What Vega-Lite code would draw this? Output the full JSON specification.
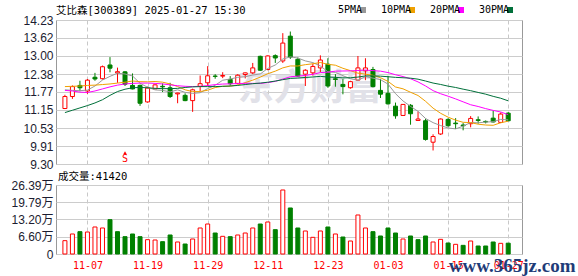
{
  "$schema": "https://vega.github.io/schema/vega-lite/v6.json",
  "background": "white",
  "padding": {"left": 10, "top": 5, "right": 0, "bottom": 0},
  "spacing": 21,
  "bounds": "flush",
  "config": {
    "view": {"stroke": "#999999", "strokeWidth": 1},
    "axis": {"gridColor": "#cccccc", "gridWidth": 1, "ticks": false, "domain": false, "title": null, "labelOverlap": false, "labelFlush": false}
  },
  "datasets": {
    "k": [
      {"i":0,"d":"11-04","o":11.20,"h":11.67,"l":11.18,"c":11.61,"v":5.10,"u":1,"vu":1,"5PMA":11.84,"10PMA":11.95,"20PMA":11.82,"30PMA":11.06},
      {"i":1,"d":"11-05","o":11.61,"h":11.99,"l":11.53,"c":11.95,"v":7.65,"u":1,"vu":1,"5PMA":11.82,"10PMA":11.96,"20PMA":11.80,"30PMA":11.14},
      {"i":2,"d":"11-06","o":11.99,"h":12.15,"l":11.79,"c":11.91,"v":8.54,"u":0,"vu":0,"5PMA":11.81,"10PMA":11.97,"20PMA":11.76,"30PMA":11.22},
      {"i":3,"d":"11-07","o":11.80,"h":12.21,"l":11.70,"c":12.17,"v":8.41,"u":1,"vu":1,"5PMA":11.83,"10PMA":11.99,"20PMA":11.75,"30PMA":11.30},
      {"i":4,"d":"11-08","o":12.27,"h":12.42,"l":12.15,"c":12.21,"v":10.33,"u":0,"vu":1,"5PMA":11.97,"10PMA":12.00,"20PMA":11.80,"30PMA":11.39},
      {"i":5,"d":"11-11","o":12.22,"h":12.67,"l":12.19,"c":12.63,"v":9.95,"u":1,"vu":1,"5PMA":12.174,"10PMA":12.02,"20PMA":11.87,"30PMA":11.50},
      {"i":6,"d":"11-12","o":12.69,"h":12.96,"l":12.44,"c":12.58,"v":13.13,"u":0,"vu":0,"5PMA":12.30,"10PMA":12.04,"20PMA":11.94,"30PMA":11.65},
      {"i":7,"d":"11-13","o":12.42,"h":12.60,"l":12.08,"c":12.46,"v":8.54,"u":1,"vu":0,"5PMA":12.41,"10PMA":12.07,"20PMA":12.00,"30PMA":11.78},
      {"i":8,"d":"11-14","o":12.455,"h":12.48,"l":11.97,"c":12.03,"v":6.63,"u":0,"vu":0,"5PMA":12.382,"10PMA":12.10,"20PMA":12.04,"30PMA":11.86},
      {"i":9,"d":"11-15","o":11.99,"h":12.40,"l":11.855,"c":11.87,"v":7.65,"u":0,"vu":0,"5PMA":12.314,"10PMA":12.142,"20PMA":12.06,"30PMA":11.91},
      {"i":10,"d":"11-18","o":11.99,"h":12.02,"l":11.29,"c":11.38,"v":6.63,"u":0,"vu":0,"5PMA":12.064,"10PMA":12.119,"20PMA":12.07,"30PMA":11.92},
      {"i":11,"d":"11-19","o":11.425,"h":11.95,"l":11.40,"c":11.90,"v":5.48,"u":1,"vu":1,"5PMA":11.928,"10PMA":12.114,"20PMA":12.07,"30PMA":11.91},
      {"i":12,"d":"11-20","o":11.87,"h":12.025,"l":11.87,"c":12.01,"v":5.35,"u":1,"vu":1,"5PMA":11.838,"10PMA":12.124,"20PMA":12.06,"30PMA":11.89},
      {"i":13,"d":"11-21","o":11.96,"h":12.06,"l":11.765,"c":11.94,"v":4.72,"u":0,"vu":0,"5PMA":11.82,"10PMA":12.101,"20PMA":12.04,"30PMA":11.88},
      {"i":14,"d":"11-22","o":11.91,"h":12.08,"l":11.56,"c":11.61,"v":7.27,"u":0,"vu":0,"5PMA":11.768,"10PMA":12.041,"20PMA":12.01,"30PMA":11.88},
      {"i":15,"d":"11-25","o":11.70,"h":11.74,"l":11.38,"c":11.73,"v":4.59,"u":1,"vu":1,"5PMA":11.838,"10PMA":11.951,"20PMA":11.98,"30PMA":11.89},
      {"i":16,"d":"11-26","o":11.65,"h":11.72,"l":11.45,"c":11.47,"v":3.82,"u":0,"vu":0,"5PMA":11.752,"10PMA":11.84,"20PMA":11.96,"30PMA":11.92},
      {"i":17,"d":"11-27","o":11.47,"h":11.88,"l":11.085,"c":11.84,"v":5.74,"u":1,"vu":1,"5PMA":11.718,"10PMA":11.778,"20PMA":11.95,"30PMA":11.94},
      {"i":18,"d":"11-28","o":11.957,"h":12.33,"l":11.80,"c":12.05,"v":9.95,"u":1,"vu":1,"5PMA":11.74,"10PMA":11.78,"20PMA":11.96,"30PMA":11.95},
      {"i":19,"d":"11-29","o":12.08,"h":12.65,"l":11.97,"c":12.32,"v":11.47,"u":1,"vu":1,"5PMA":11.882,"10PMA":11.825,"20PMA":11.984,"30PMA":11.95},
      {"i":20,"d":"12-02","o":12.31,"h":12.375,"l":12.22,"c":12.30,"v":8.03,"u":0,"vu":0,"5PMA":11.996,"10PMA":11.917,"20PMA":12.018,"30PMA":11.95},
      {"i":21,"d":"12-03","o":12.308,"h":12.443,"l":12.24,"c":12.33,"v":6.76,"u":1,"vu":1,"5PMA":12.168,"10PMA":11.96,"20PMA":12.037,"30PMA":11.96},
      {"i":22,"d":"12-04","o":12.195,"h":12.31,"l":11.98,"c":12.05,"v":6.63,"u":0,"vu":0,"5PMA":12.21,"10PMA":11.964,"20PMA":12.044,"30PMA":11.97},
      {"i":23,"d":"12-05","o":12.06,"h":12.375,"l":12.025,"c":12.34,"v":7.27,"u":1,"vu":1,"5PMA":12.268,"10PMA":12.004,"20PMA":12.053,"30PMA":11.99},
      {"i":24,"d":"12-06","o":12.364,"h":12.43,"l":12.23,"c":12.42,"v":8.03,"u":1,"vu":1,"5PMA":12.288,"10PMA":12.085,"20PMA":12.063,"30PMA":12.02},
      {"i":25,"d":"12-09","o":12.42,"h":12.76,"l":12.375,"c":12.59,"v":9.95,"u":1,"vu":1,"5PMA":12.346,"10PMA":12.171,"20PMA":12.061,"30PMA":12.05},
      {"i":26,"d":"12-10","o":12.986,"h":13.01,"l":12.49,"c":12.51,"v":11.47,"u":0,"vu":0,"5PMA":12.382,"10PMA":12.275,"20PMA":12.058,"30PMA":12.07},
      {"i":27,"d":"12-11","o":12.534,"h":13.02,"l":12.51,"c":13.00,"v":12.24,"u":1,"vu":1,"5PMA":12.572,"10PMA":12.391,"20PMA":12.085,"30PMA":12.10},
      {"i":28,"d":"12-12","o":13.009,"h":13.054,"l":12.76,"c":12.93,"v":9.31,"u":0,"vu":0,"5PMA":12.69,"10PMA":12.479,"20PMA":12.13,"30PMA":12.14},
      {"i":29,"d":"12-13","o":12.828,"h":13.78,"l":12.76,"c":13.44,"v":24.48,"u":1,"vu":1,"5PMA":12.894,"10PMA":12.591,"20PMA":12.208,"30PMA":12.186},
      {"i":30,"d":"12-16","o":13.677,"h":13.835,"l":12.896,"c":12.96,"v":17.60,"u":0,"vu":0,"5PMA":12.968,"10PMA":12.657,"20PMA":12.287,"30PMA":12.231},
      {"i":31,"d":"12-17","o":12.885,"h":12.95,"l":12.285,"c":12.31,"v":9.95,"u":0,"vu":0,"5PMA":12.928,"10PMA":12.655,"20PMA":12.308,"30PMA":12.243},
      {"i":32,"d":"12-18","o":12.376,"h":12.545,"l":11.97,"c":12.51,"v":8.80,"u":1,"vu":1,"5PMA":12.83,"10PMA":12.701,"20PMA":12.333,"30PMA":12.263},
      {"i":33,"d":"12-19","o":12.42,"h":12.738,"l":12.33,"c":12.64,"v":6.38,"u":1,"vu":1,"5PMA":12.772,"10PMA":12.731,"20PMA":12.368,"30PMA":12.279},
      {"i":34,"d":"12-20","o":12.59,"h":13.02,"l":12.444,"c":12.86,"v":8.80,"u":1,"vu":1,"5PMA":12.656,"10PMA":12.775,"20PMA":12.43,"30PMA":12.30},
      {"i":35,"d":"12-23","o":12.715,"h":12.92,"l":11.91,"c":11.97,"v":10.33,"u":0,"vu":0,"5PMA":12.458,"10PMA":12.713,"20PMA":12.442,"30PMA":12.278},
      {"i":36,"d":"12-24","o":12.217,"h":12.376,"l":11.946,"c":12.195,"v":7.65,"u":0,"vu":1,"5PMA":12.436,"10PMA":12.682,"20PMA":12.479,"30PMA":12.266},
      {"i":37,"d":"12-25","o":12.025,"h":12.206,"l":11.686,"c":11.95,"v":6.50,"u":0,"vu":0,"5PMA":12.324,"10PMA":12.577,"20PMA":12.484,"30PMA":12.249},
      {"i":38,"d":"12-26","o":11.912,"h":12.15,"l":11.878,"c":12.12,"v":4.97,"u":1,"vu":1,"5PMA":12.22,"10PMA":12.496,"20PMA":12.488,"30PMA":12.252},
      {"i":39,"d":"12-27","o":12.172,"h":12.998,"l":12.15,"c":12.59,"v":14.92,"u":1,"vu":1,"5PMA":12.166,"10PMA":12.411,"20PMA":12.501,"30PMA":12.276},
      {"i":40,"d":"12-30","o":12.49,"h":12.92,"l":12.17,"c":12.59,"v":9.95,"u":1,"vu":1,"5PMA":12.29,"10PMA":12.374,"20PMA":12.516,"30PMA":12.316},
      {"i":41,"d":"12-31","o":12.534,"h":12.625,"l":11.923,"c":11.95,"v":8.54,"u":0,"vu":0,"5PMA":12.24,"10PMA":12.338,"20PMA":12.497,"30PMA":12.318},
      {"i":42,"d":"01-02","o":11.82,"h":12.217,"l":11.56,"c":11.69,"v":6.89,"u":0,"vu":0,"5PMA":12.188,"10PMA":12.256,"20PMA":12.479,"30PMA":12.307},
      {"i":43,"d":"01-03","o":11.72,"h":12.319,"l":11.335,"c":11.36,"v":9.95,"u":0,"vu":0,"5PMA":12.036,"10PMA":12.128,"20PMA":12.43,"30PMA":12.288},
      {"i":44,"d":"01-06","o":11.28,"h":11.403,"l":10.85,"c":10.95,"v":8.03,"u":0,"vu":0,"5PMA":11.708,"10PMA":11.937,"20PMA":12.356,"30PMA":12.266},
      {"i":45,"d":"01-07","o":10.962,"h":11.35,"l":10.95,"c":11.34,"v":5.74,"u":1,"vu":1,"5PMA":11.458,"10PMA":11.874,"20PMA":12.294,"30PMA":12.253},
      {"i":46,"d":"01-08","o":11.31,"h":11.35,"l":10.645,"c":11.02,"v":6.89,"u":0,"vu":0,"5PMA":11.272,"10PMA":11.756,"20PMA":12.219,"30PMA":12.238},
      {"i":47,"d":"01-09","o":10.79,"h":11.098,"l":10.79,"c":10.84,"v":5.48,"u":1,"vu":0,"5PMA":11.102,"10PMA":11.645,"20PMA":12.111,"30PMA":12.204},
      {"i":48,"d":"01-10","o":10.781,"h":10.85,"l":10.10,"c":10.14,"v":6.89,"u":0,"vu":0,"5PMA":10.858,"10PMA":11.447,"20PMA":11.972,"30PMA":12.141},
      {"i":49,"d":"01-13","o":10.046,"h":10.317,"l":9.763,"c":10.24,"v":4.59,"u":1,"vu":1,"5PMA":10.716,"10PMA":11.212,"20PMA":11.812,"30PMA":12.071},
      {"i":50,"d":"01-14","o":10.328,"h":10.86,"l":10.295,"c":10.84,"v":5.61,"u":1,"vu":1,"5PMA":10.616,"10PMA":11.037,"20PMA":11.706,"30PMA":12.023},
      {"i":51,"d":"01-15","o":10.826,"h":10.87,"l":10.578,"c":10.61,"v":4.21,"u":0,"vu":0,"5PMA":10.534,"10PMA":10.903,"20PMA":11.621,"30PMA":11.965},
      {"i":52,"d":"01-16","o":10.70,"h":10.87,"l":10.498,"c":10.68,"v":3.70,"u":0,"vu":1,"5PMA":10.502,"10PMA":10.802,"20PMA":11.529,"30PMA":11.92},
      {"i":53,"d":"01-17","o":10.634,"h":10.70,"l":10.453,"c":10.61,"v":3.31,"u":0,"vu":0,"5PMA":10.596,"10PMA":10.727,"20PMA":11.428,"30PMA":11.862},
      {"i":54,"d":"01-20","o":10.679,"h":10.94,"l":10.555,"c":10.86,"v":4.97,"u":1,"vu":1,"5PMA":10.72,"10PMA":10.718,"20PMA":11.328,"30PMA":11.81},
      {"i":55,"d":"01-21","o":10.815,"h":10.928,"l":10.679,"c":10.79,"v":3.06,"u":0,"vu":0,"5PMA":10.71,"10PMA":10.663,"20PMA":11.269,"30PMA":11.75},
      {"i":56,"d":"01-22","o":10.758,"h":10.79,"l":10.69,"c":10.74,"v":3.06,"u":0,"vu":0,"5PMA":10.736,"10PMA":10.635,"20PMA":11.196,"30PMA":11.691},
      {"i":57,"d":"01-23","o":10.87,"h":11.13,"l":10.724,"c":10.74,"v":4.59,"u":0,"vu":0,"5PMA":10.748,"10PMA":10.625,"20PMA":11.135,"30PMA":11.616},
      {"i":58,"d":"01-24","o":10.724,"h":11.064,"l":10.70,"c":11.01,"v":4.08,"u":1,"vu":1,"5PMA":10.828,"10PMA":10.712,"20PMA":11.08,"30PMA":11.552},
      {"i":59,"d":"01-27","o":11.041,"h":11.075,"l":10.77,"c":10.78,"v":4.14,"u":0,"vu":0,"5PMA":10.812,"10PMA":10.766,"20PMA":10.989,"30PMA":11.463}
    ]
  },
  "vconcat": [
    {
      "width": 466,
      "height": 144,
      "data": {"name": "k"},
      "title": {"text": "艾比森[300389] 2025-01-27 15:30", "anchor": "start", "frame": "group", "font": "DejaVu Sans Mono, Noto Sans CJK SC", "fontSize": 10.5, "fontWeight": "normal", "color": "#000000", "offset": -2},
      "encoding": {
        "x": {"field": "i", "type": "quantitative", "scale": {"domain": [-0.52, 60.17], "nice": false, "zero": false},
              "axis": {"values": [3, 11, 19, 27, 35, 43, 51, 59], "tickCount": 20, "labels": false, "grid": true, "gridDash": [4, 3], "gridColor": "#c8c8c8"}}
      },
      "layer": [
        {
          "transform": [{"filter": "datum.i == 0"}],
          "mark": {"type": "text", "font": "Noto Sans CJK SC", "fontSize": 36, "fontWeight": "bold", "color": "#e1e1e8", "align": "center", "baseline": "middle"},
          "encoding": {"x": {"datum": 32.6}, "y": {"datum": 11.86, "type": "quantitative"}, "text": {"value": "东方财富"}}
        },
        {
          "transform": [{"filter": "datum.i == 0"}],
          "mark": {"type": "text", "font": "DejaVu Sans Mono", "fontSize": 10, "color": "#ff0000", "align": "center", "baseline": "middle"},
          "encoding": {"x": {"datum": 8}, "y": {"datum": 9.46, "type": "quantitative"}, "text": {"value": "S"}}
        },
        {
          "transform": [{"filter": "datum.i == 0"}],
          "mark": {"type": "point", "shape": "triangle-up", "size": 14, "filled": true, "color": "#ff0000", "opacity": 1},
          "encoding": {"x": {"datum": 8}, "y": {"datum": 9.68, "type": "quantitative"}}
        },
        {
          "mark": {"type": "rule", "strokeWidth": 1},
          "encoding": {
            "y": {"field": "l", "type": "quantitative", "scale": {"domain": [9.30, 14.23], "nice": false, "zero": false},
                  "axis": {"values": [9.30, 9.91, 10.53, 11.15, 11.77, 12.38, 13.00, 13.62, 14.23], "tickCount": 20, "format": ".2f", "grid": true, "labelOverlap": false, "labelFlush": false, "labelPadding": 3, "labelFont": "Liberation Sans", "labelFontSize": 12, "labelColor": "#1c1c30"}},
            "y2": {"field": "h"},
            "color": {"condition": {"test": "datum.u == 1", "value": "#ff0000"}, "value": "#008000"}
          }
        },
        {
          "mark": {"type": "bar", "width": 4, "strokeWidth": 1},
          "encoding": {
            "y": {"field": "o", "type": "quantitative"},
            "y2": {"field": "c"},
            "fill": {"condition": {"test": "datum.u == 1", "value": "#ffffff"}, "value": "#008000"},
            "stroke": {"condition": {"test": "datum.u == 1", "value": "#ff0000"}, "value": "#008000"}
          }
        },
        {
          "transform": [{"fold": ["5PMA", "10PMA", "20PMA", "30PMA"], "as": ["key", "val"]}],
          "mark": {"type": "line", "strokeWidth": 1, "interpolate": "linear"},
          "encoding": {
            "y": {"field": "val", "type": "quantitative"},
            "color": {"field": "key", "type": "nominal",
                      "scale": {"domain": ["5PMA", "10PMA", "20PMA", "30PMA"], "range": ["#999999", "#f0a000", "#ff00ff", "#00703a"]},
                      "legend": {"orient": "none", "legendX": 300, "legendY": -15, "direction": "horizontal", "title": null,
                                 "symbolType": "square", "symbolSize": 4, "symbolStrokeWidth": 4,
                                 "labelFont": "DejaVu Sans Mono", "labelFontSize": 10, "labelColor": "#000000",
                                 "labelAlign": "right", "labelOffset": -6, "symbolOffset": 2, "columnPadding": 8}}
          }
        }
      ]
    },
    {
      "width": 466,
      "height": 69,
      "data": {"name": "k"},
      "title": {"text": "成交量:41420", "anchor": "start", "frame": "group", "dx": 2, "font": "DejaVu Sans Mono, Noto Sans CJK SC", "fontSize": 10.5, "fontWeight": "normal", "color": "#000000", "offset": -3},
      "encoding": {
        "x": {"field": "i", "type": "quantitative", "scale": {"domain": [-0.52, 60.17], "nice": false, "zero": false},
              "axis": {"values": [3, 11, 19, 27, 35, 43, 51, 59], "tickCount": 20, "grid": true, "gridDash": [4, 3], "gridColor": "#c8c8c8",
                       "labelExpr": "datum.value == 3 ? '11-07' : datum.value == 11 ? '11-19' : datum.value == 19 ? '11-29' : datum.value == 27 ? '12-11' : datum.value == 35 ? '12-23' : datum.value == 43 ? '01-03' : datum.value == 51 ? '01-15' : '01-27'",
                       "labelColor": "#ff0000", "labelFont": "DejaVu Sans Mono", "labelFontSize": 10, "labelPadding": 6, "labelFlush": false, "labelOverlap": false}}
      },
      "layer": [
        {
          "mark": {"type": "bar", "width": 4, "strokeWidth": 1},
          "encoding": {
            "y": {"field": "v", "type": "quantitative", "scale": {"domain": [0, 26.39], "nice": false},
                  "axis": {"values": [0, 6.6, 13.2, 19.79, 26.39], "tickCount": 20, "grid": true, "labelOverlap": false, "labelFlush": false, "labelPadding": 3, "labelFont": "Liberation Sans, Noto Sans CJK SC", "labelFontSize": 12, "labelColor": "#1c1c30",
                           "labelExpr": "datum.value == 0 ? '0' : format(datum.value, '.2f') + '万'"}},
            "fill": {"condition": {"test": "datum.vu == 1", "value": "#ffffff"}, "value": "#008000"},
            "stroke": {"condition": {"test": "datum.vu == 1", "value": "#ff0000"}, "value": "#008000"}
          }
        },
        {
          "transform": [{"filter": "datum.i == 0"}],
          "mark": {"type": "text", "font": "Liberation Serif", "fontSize": 19, "fontWeight": "bold", "color": "#1f3c78", "align": "left", "baseline": "middle"},
          "encoding": {"x": {"datum": 51.1}, "y": {"datum": -4.4, "type": "quantitative"}, "text": {"value": "www.365jz.com"}}
        }
      ]
    }
  ]
}
